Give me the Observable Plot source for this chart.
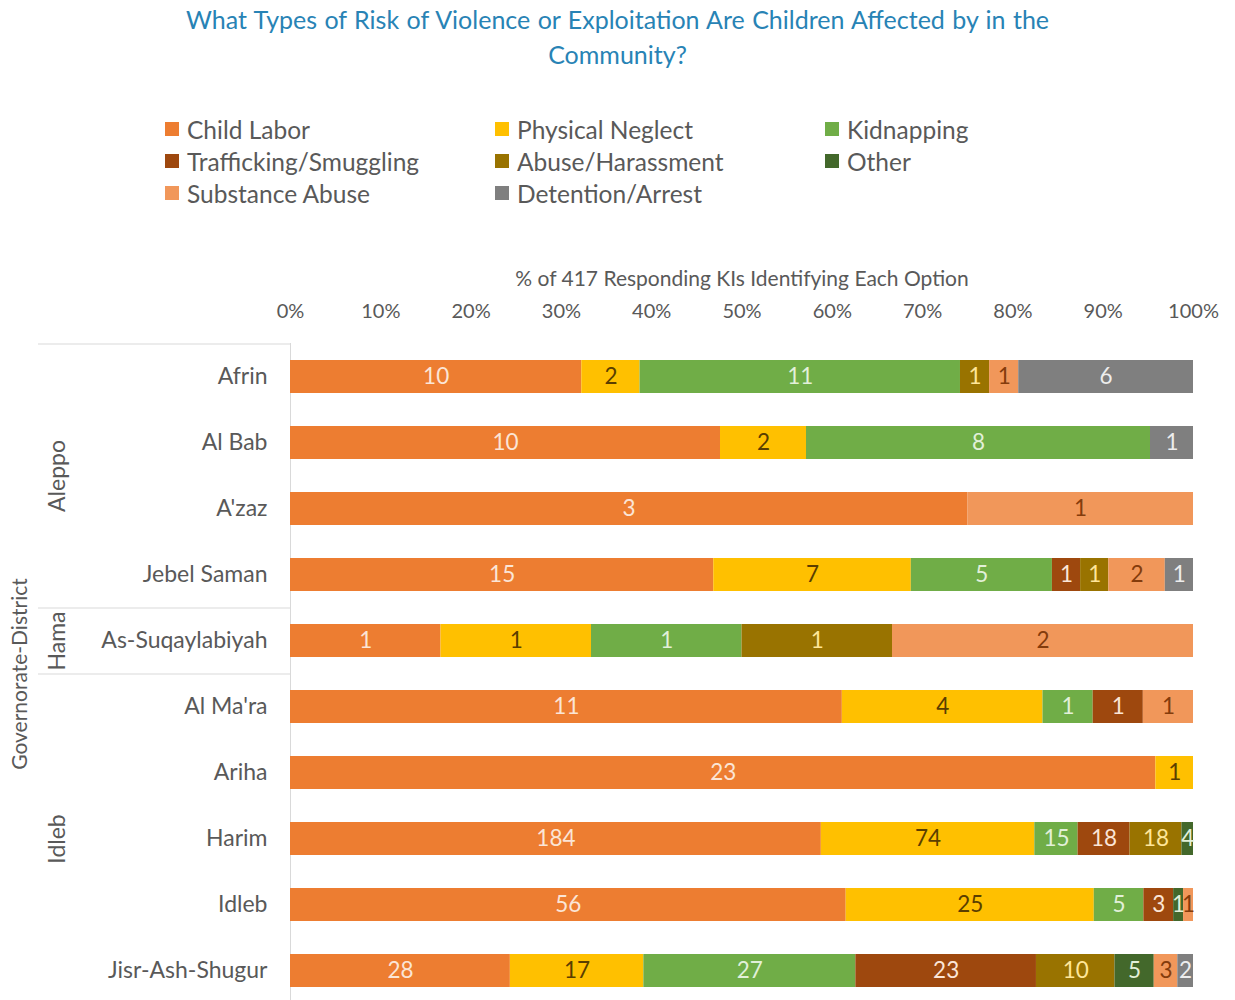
<!DOCTYPE html>
<html>
<head>
<meta charset="utf-8">
<script src="https://cdn.jsdelivr.net/npm/d3@7"></script>
<script src="https://cdn.jsdelivr.net/npm/@observablehq/plot@0.6"></script>
<style>
  body { margin: 0; background: #fff; font-family: Lato, "Open Sans", sans-serif; }
  #wrap { position: relative; width: 1235px; height: 1000px; overflow: hidden; }
  #title { position: absolute; top: 2px; left: 0; width: 1235px; text-align: center; color: #2883B5; font-size: 25px; line-height: 35px; word-spacing: 1px; }
  #legend { position: absolute; top: 113px; left: 165px; display: grid; grid-template-columns: 330px 330px 330px; row-gap: 0; }
  .item { display: flex; align-items: center; font-size: 24.5px; color: #595959; height: 32px; }
  .sw { width: 14px; height: 14px; margin-right: 8px; }
  #chart { position: absolute; top: 240px; left: 0; }
</style>
</head>
<body>
<div id="wrap">
  <div id="title">What Types of Risk of Violence or Exploitation Are Children Affected by in the<br>Community?</div>
  <div id="legend"></div>
  <div id="chart"></div>
</div>
<script>
const districts = ["Afrin", "Al Bab", "A'zaz", "Jebel Saman", "As-Suqaylabiyah", "Al Ma'ra", "Ariha", "Harim", "Idleb", "Jisr-Ash-Shugur"];
const governorates = ["Aleppo", "Aleppo", "Aleppo", "Aleppo", "Hama", "Idleb", "Idleb", "Idleb", "Idleb", "Idleb"];
const categories = ["Child Labor", "Physical Neglect", "Kidnapping", "Trafficking/Smuggling", "Abuse/Harassment", "Other", "Substance Abuse", "Detention/Arrest"];
const colors = ["#ED7D31", "#FFC000", "#70AD47", "#9E480E", "#997300", "#43682B", "#F1975A", "#7F7F7F"];
const labelColors = ["#FBE5D6", "#5A3E00", "#E2F0D9", "#FBE5D6", "#FFE699", "#E2F0D9", "#843C0C", "#EDEDED"];

// values per category, in district order (0 = not shown)
const childLabor    = [10, 10, 3, 15, 1, 11, 23, 184, 56, 28];
const physNeglect   = [2, 2, 0, 7, 1, 4, 1, 74, 25, 17];
const kidnapping    = [11, 8, 0, 5, 1, 1, 0, 15, 5, 27];
const trafficking   = [0, 0, 0, 1, 0, 1, 0, 18, 3, 23];
const abuse         = [1, 0, 0, 1, 1, 0, 0, 18, 0, 10];
const other         = [0, 0, 0, 0, 0, 0, 0, 4, 1, 5];
const substance     = [1, 0, 1, 2, 2, 1, 0, 0, 1, 3];
const detention     = [6, 1, 0, 1, 0, 0, 0, 0, 0, 2];
const series = [childLabor, physNeglect, kidnapping, trafficking, abuse, other, substance, detention];

const xTicks = [0, 0.1, 0.2, 0.3, 0.4, 0.5, 0.6, 0.7, 0.8, 0.9, 1];
const axisLabel = "% of 417 Responding KIs Identifying Each Option";
const leftLabel = "Governorate-District";

// legend
const leg = document.getElementById("legend");
const legendRows = [["Child Labor","Physical Neglect","Kidnapping"],["Trafficking/Smuggling","Abuse/Harassment","Other"],["Substance Abuse","Detention/Arrest",null]];
legendRows.flat().forEach(c => {
  const d = document.createElement("div");
  d.className = "item";
  if (c) {
    const i = categories.indexOf(c);
    d.innerHTML = `<span class="sw" style="background:${colors[i]}"></span><span>${c}</span>`;
  }
  leg.appendChild(d);
});

const data = [];
districts.forEach((d, j) => {
  categories.forEach((c, i) => {
    const v = series[i][j];
    if (v > 0) data.push({district: d, gov: governorates[j], cat: c, ci: i, value: v});
  });
});

// governorate groups
const govNames = [...new Set(governorates)];
const govGroups = govNames.map(g => {
  const idx = governorates.map((x, i) => x === g ? i : -1).filter(i => i >= 0);
  return {gov: g, first: districts[idx[0]], mid: districts[idx[Math.floor((idx.length - 1) / 2)]], n: idx.length};
});

const marginTop = 103, marginLeft = 290, marginRight = 42, nRows = districts.length;
const step = 66;
const height = marginTop + step * nRows;
const plotW = 1235 - marginLeft - marginRight;
const px = p => (p - marginLeft) / plotW; // pixel to x-domain helper for annotation extents

const govMarks = govGroups.map(g => Plot.text([g], {
  x: 0, y: "mid", text: "gov", rotate: -90,
  dx: 57 - marginLeft, dy: (g.n % 2 === 0) ? step / 2 : 0,
  fontSize: 23, fill: "#595959"
}));

const chart = Plot.plot({
  width: 1235,
  height,
  marginTop,
  marginLeft,
  marginRight,
  marginBottom: 0,
  style: {fontFamily: "Lato, 'Open Sans', sans-serif", fontSize: "20px", color: "#595959", background: "transparent", overflow: "visible"},
  x: {domain: [0, 1], axis: "top", ticks: xTicks, tickFormat: d => Math.round(d * 100) + "%", tickSize: 0, tickPadding: 26, label: null},
  y: {domain: districts, axis: null, paddingInner: 0.5, paddingOuter: 0.25},
  color: {type: "identity"},
  marks: [
    Plot.ruleX([0], {stroke: "#D9D9D9", strokeWidth: 1}),
    Plot.ruleY(govGroups, {y: "first", x1: px(38), x2: 0, dy: -step / 2, stroke: "#D9D9D9", strokeWidth: 1, clip: false}),
    Plot.barX(data, Plot.stackX({
      x: "value", y: "district", offset: "normalize",
      order: d => d.ci,
      fill: d => colors[d.ci]
    })),
    Plot.text(data, Plot.stackX({
      x: "value", y: "district", offset: "normalize",
      order: d => d.ci,
      text: d => String(d.value),
      fill: d => labelColors[d.ci],
      fontSize: 22.5
    })),
    Plot.text(districts, {x: 0, y: d => d, text: d => d, textAnchor: "end", dx: -23, fontSize: 23, fill: "#595959"}),
    ...govMarks,
    Plot.text([leftLabel], {x: 0, y: [districts[4]], text: d => d, rotate: -90, dx: 20 - marginLeft, dy: step / 2, fontSize: 21, fill: "#595959"}),
    Plot.text([axisLabel], {frameAnchor: "top", dy: -72, text: d => d, fontSize: 21, fill: "#595959"})
  ]
});
document.getElementById("chart").appendChild(chart);
</script>
</body>
</html>
